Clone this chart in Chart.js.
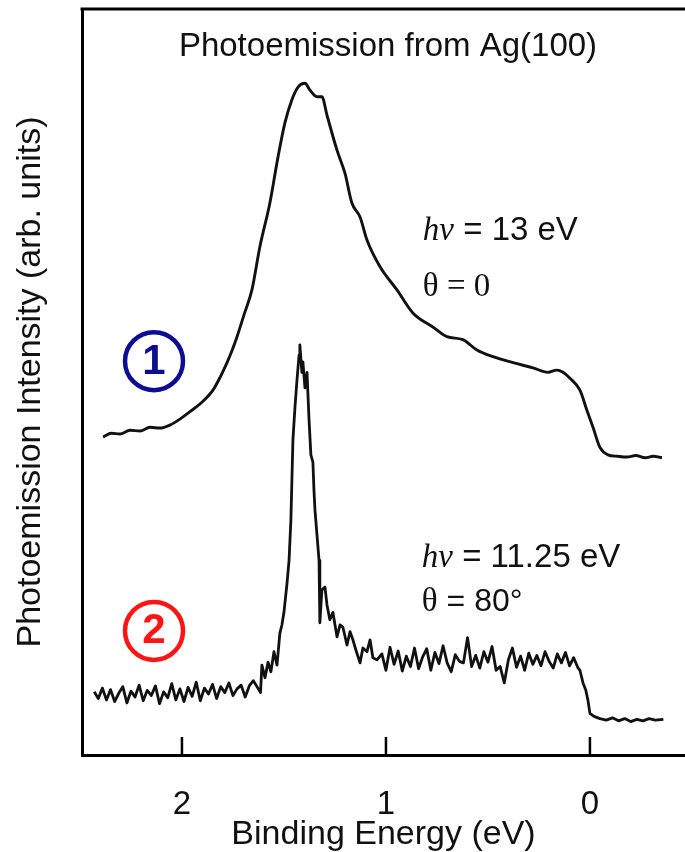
<!DOCTYPE html>
<html>
<head>
<meta charset="utf-8">
<script src="https://cdn.jsdelivr.net/npm/chart.js@4.4.0/dist/chart.umd.min.js"></script>
<style>
  html, body { margin: 0; padding: 0; background: #fff; }
  #wrap { width: 685px; height: 852px; }
</style>
</head>
<body>
<div id="wrap"><canvas id="chart"></canvas></div>
<script>
// curve 1 : hv = 13 eV, theta = 0 (binding energy in eV, intensity arb. units)
const energy1 = [2.387, 2.346, 2.304, 2.255, 2.206, 2.157, 2.108, 2.059, 2.010, 1.961,
  1.905, 1.848, 1.810, 1.779, 1.755, 1.730, 1.694, 1.657, 1.618, 1.569,
  1.529, 1.495, 1.461, 1.431, 1.397, 1.373, 1.338, 1.314, 1.289, 1.240,
  1.201, 1.167, 1.127, 1.093, 1.029, 0.946, 0.868, 0.770, 0.701, 0.623,
  0.554, 0.475, 0.377, 0.279, 0.206, 0.162, 0.132, 0.098, 0.049, 0.015,
  -0.015, -0.049, -0.088, -0.135, -0.181, -0.225, -0.270, -0.310, -0.353];
const intensity1 = [42.4, 42.9, 42.8, 43.3, 43.2, 43.7, 43.6, 44.0, 44.8, 45.8,
  47.0, 48.7, 50.6, 52.4, 54.0, 55.9, 59.0, 62.2, 68.0, 73.9,
  80.1, 84.7, 87.8, 89.5, 90.0, 89.1, 88.2, 88.2, 85.7, 81.0,
  77.9, 73.9, 72.0, 68.9, 65.3, 62.2, 59.1, 57.2, 55.9, 55.5,
  54.1, 53.2, 52.4, 51.7, 51.1, 51.4, 51.1, 50.3, 48.7, 46.0,
  43.7, 41.0, 40.0, 39.8, 39.7, 39.9, 39.6, 39.8, 39.6];

// curve 2 : hv = 11.25 eV, theta = 80 deg
const energy2 = [2.43, 2.41, 2.39, 2.37, 2.35, 2.33, 2.31, 2.29, 2.27, 2.25,
  2.23, 2.21, 2.19, 2.17, 2.15, 2.13, 2.11, 2.09, 2.07, 2.05,
  2.03, 2.01, 1.99, 1.97, 1.95, 1.93, 1.91, 1.89, 1.87, 1.85,
  1.83, 1.81, 1.79, 1.77, 1.75, 1.73, 1.71, 1.69, 1.67, 1.65, 1.63,
  1.615, 1.608, 1.593, 1.578, 1.564, 1.549, 1.534, 1.520, 1.510, 1.500,
  1.485, 1.475, 1.466, 1.456, 1.446, 1.436, 1.426, 1.422, 1.412, 1.407,
  1.397, 1.387, 1.377, 1.368, 1.358, 1.353, 1.348, 1.338, 1.328, 1.324,
  1.314, 1.299, 1.289, 1.275, 1.260, 1.240, 1.225, 1.211, 1.191, 1.176,
  1.162, 1.147, 1.127, 1.113, 1.093, 1.078, 1.064, 1.044,
  1.02, 1.00, 0.98, 0.96, 0.94, 0.92, 0.90, 0.88, 0.86, 0.84,
  0.82, 0.80, 0.78, 0.76, 0.74, 0.72, 0.70, 0.68, 0.66, 0.64,
  0.62, 0.60, 0.58, 0.56, 0.54, 0.52, 0.50, 0.48, 0.46, 0.44,
  0.42, 0.40, 0.38, 0.36, 0.34, 0.32, 0.30, 0.28, 0.26, 0.24,
  0.22, 0.20, 0.18, 0.16, 0.14, 0.12, 0.10, 0.08, 0.06,
  0.049, 0.034, 0.020, 0.010, 0.000, -0.020, -0.049,
  -0.08, -0.11, -0.14, -0.17, -0.20, -0.23, -0.26, -0.29, -0.32, -0.36];
const intensity2 = [8.1, 7.2, 8.6, 7.0, 8.4, 6.8, 7.9, 8.8, 6.6, 8.2,
  7.4, 9.0, 6.9, 8.3, 7.6, 8.9, 6.5, 8.1, 7.3, 9.2,
  7.0, 8.5, 6.8, 8.7, 7.5, 9.4, 6.9, 8.6, 7.8, 9.1,
  7.2, 8.8, 8.0, 9.3, 7.6, 8.5, 9.0, 7.4, 8.9, 9.6, 8.7,
  8.0, 11.7, 10.0, 12.1, 10.8, 13.5, 11.7, 16.0, 17.1, 18.8,
  22.7, 25.8, 31.2, 42.0, 46.4, 50.1, 53.4, 54.8, 51.1, 52.5,
  49.0, 51.1, 44.7, 40.0, 39.0, 35.3, 32.6, 29.2, 25.8, 17.4,
  21.8, 22.2, 19.8, 17.8, 18.8, 15.5, 17.1, 16.8, 14.4, 16.2,
  15.1, 13.7, 12.0, 14.0, 13.5, 15.1, 12.7, 12.4,
  13.2, 11.0, 14.1, 11.8, 13.6, 10.9, 12.9, 11.5, 14.0, 11.2,
  12.8, 13.9, 11.0, 13.4, 11.9, 14.3, 12.0, 10.8, 13.1, 12.2,
  12.0, 15.4, 11.5, 13.0, 11.3, 13.5, 12.1, 14.2, 11.0, 11.5,
  9.3, 12.4, 14.0, 11.4, 12.9, 11.0, 13.3, 11.8, 13.0, 11.6,
  13.5, 12.2, 11.3, 13.2, 12.0, 13.4, 11.6, 12.7, 11.4,
  11.0, 9.3, 8.3, 7.0, 5.2, 4.8, 4.5,
  4.3, 4.6, 4.2, 4.5, 4.1, 4.4, 4.2, 4.5, 4.3, 4.4];

const xTicks = [2, 1, 0];

const SANS = "'Liberation Sans', Arial, sans-serif";
const SERIF = "'Liberation Serif', 'Times New Roman', serif";

// text placed in data coordinates
const notes = [
  { e: 0.99, i: 93.7, align: 'center', parts: [['Photoemission from Ag(100)', '33px ' + SANS]] },
  { e: 0.819, i: 68.9, parts: [['h\u03bd', 'italic 33px ' + SERIF], [' = 13 eV', '33px ' + SANS]] },
  { e: 0.819, i: 61.4, parts: [['\u03b8 = 0', '33px ' + SERIF]] },
  { e: 0.824, i: 24.9, parts: [['h\u03bd', 'italic 33px ' + SERIF], [' = 11.25 eV', '33px ' + SANS]] },
  { e: 0.824, i: 19.0, parts: [['\u03b8', '33px ' + SERIF], [' = 80\u00b0', '32px ' + SANS]] }
];
const badges = [
  { e: 2.137, i: 52.6, text: '1', color: '#0d0d94' },
  { e: 2.137, i: 16.3, text: '2', color: '#ff1414' }
];

const toPoints = (xs, ys) => xs.map((x, k) => ({ x: x, y: ys[k] }));

const extras = {
  id: 'extras',
  afterDraw(chart) {
    const { ctx, chartArea } = chart;
    const xs = chart.scales.x, ys = chart.scales.y;
    ctx.save();
    ctx.strokeStyle = '#000';
    ctx.lineWidth = 3;
    ctx.beginPath();
    ctx.moveTo(chartArea.left - 1.5, chartArea.top);
    ctx.lineTo(chartArea.right, chartArea.top);
    ctx.stroke();

    // inward tick marks
    ctx.lineWidth = 2.5;
    xTicks.forEach(v => {
      const px = xs.getPixelForValue(v);
      ctx.beginPath();
      ctx.moveTo(px, chartArea.bottom);
      ctx.lineTo(px, chartArea.bottom - 18);
      ctx.stroke();
    });

    ctx.fillStyle = '#111';
    ctx.textBaseline = 'alphabetic';
    notes.forEach(n => {
      let px = xs.getPixelForValue(n.e);
      const py = ys.getPixelForValue(n.i);
      let total = 0;
      n.parts.forEach(p => { ctx.font = p[1]; total += ctx.measureText(p[0]).width; });
      if (n.align === 'center') px -= total / 2;
      ctx.textAlign = 'left';
      n.parts.forEach(p => {
        ctx.font = p[1];
        ctx.fillText(p[0], px, py);
        px += ctx.measureText(p[0]).width;
      });
    });

    badges.forEach(b => {
      const px = xs.getPixelForValue(b.e);
      const py = ys.getPixelForValue(b.i);
      ctx.strokeStyle = b.color;
      ctx.fillStyle = b.color;
      ctx.lineWidth = 4.5;
      ctx.beginPath();
      ctx.arc(px, py, 29, 0, Math.PI * 2);
      ctx.stroke();
      ctx.font = 'bold 42px ' + SANS;
      ctx.textAlign = 'center';
      ctx.textBaseline = 'middle';
      ctx.fillText(b.text, px, py + 1);
    });
    ctx.restore();
  }
};

new Chart(document.getElementById('chart'), {
  type: 'scatter',
  data: {
    datasets: [
      { data: toPoints(energy1, intensity1), showLine: true, borderColor: '#111', borderWidth: 2.9,
        pointRadius: 0, cubicInterpolationMode: 'monotone', borderJoinStyle: 'round' },
      { data: toPoints(energy2, intensity2), showLine: true, borderColor: '#111', borderWidth: 2.8,
        pointRadius: 0, tension: 0, borderJoinStyle: 'round' }
    ]
  },
  options: {
    responsive: true,
    maintainAspectRatio: false,
    animation: false,
    layout: { padding: { top: 9, right: 0, bottom: 0, left: 0 } },
    plugins: { legend: { display: false }, tooltip: { enabled: false } },
    scales: {
      x: {
        type: 'linear',
        reverse: true,
        min: -0.466,
        max: 2.49,
        afterBuildTicks: s => { s.ticks = xTicks.map(v => ({ value: v })); },
        afterFit: s => { s.height = 97; },
        grid: { display: false },
        border: { display: true, color: '#000', width: 3 },
        ticks: { color: '#111', font: { family: SANS, size: 33 }, padding: 22, maxRotation: 0, autoSkip: false },
        title: { display: true, text: 'Binding Energy (eV)', color: '#111',
                 font: { family: SANS, size: 34, lineHeight: 1 }, padding: 0 }
      },
      y: {
        min: -0.4,
        max: 100,
        afterFit: s => { s.width = 82; },
        grid: { display: false },
        border: { display: true, color: '#000', width: 3 },
        ticks: { display: false },
        title: { display: true, text: 'Photoemission Intensity (arb. units)', color: '#111',
                 font: { family: SANS, size: 34 }, padding: { top: 10, bottom: 0 } }
      }
    }
  },
  plugins: [extras]
});
</script>
</body>
</html>
